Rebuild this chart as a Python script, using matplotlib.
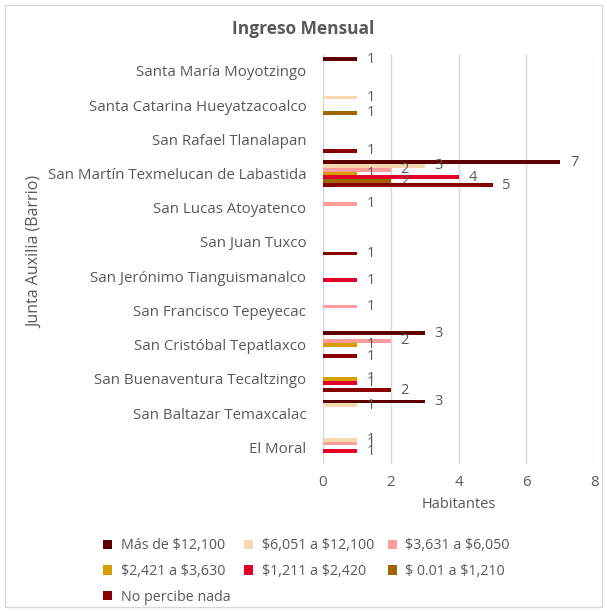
import numpy as np
import matplotlib.pyplot as plt
from matplotlib.patches import Rectangle

plt.rcParams['font.family'] = ['Open Sans', 'DejaVu Sans']

# categories from bottom to top
barrios = ["El Moral", "San Baltazar Temaxcalac", "San Buenaventura Tecaltzingo",
           "San Cristóbal Tepatlaxco", "San Francisco Tepeyecac",
           "San Jerónimo Tianguismanalco", "San Juan Tuxco", "San Lucas Atoyatenco",
           "San Martín Texmelucan de Labastida", "San Rafael Tlanalapan",
           "Santa Catarina Hueyatzacoalco", "Santa María Moyotzingo"]

mas_12100 = [0, 3, 0, 3, 0, 0, 0, 0, 7, 0, 0, 1]
r_6051_12100 = [1, 1, 0, 0, 0, 0, 0, 0, 3, 0, 1, 0]
r_3631_6050 = [1, 0, 0, 2, 1, 0, 0, 1, 2, 0, 0, 0]
r_2421_3630 = [0, 0, 1, 1, 0, 0, 0, 0, 1, 0, 0, 0]
r_1211_2420 = [1, 0, 1, 0, 0, 1, 0, 0, 4, 0, 0, 0]
r_001_1210 = [0, 0, 0, 0, 0, 0, 0, 0, 2, 0, 1, 0]
no_percibe = [0, 0, 2, 1, 0, 0, 1, 0, 5, 1, 0, 0]

series_names = [r"Más de \$12,100", r"\$6,051 a \$12,100", r"\$3,631 a \$6,050",
                r"\$2,421 a \$3,630", r"\$1,211 a \$2,420", r"\$ 0.01 a \$1,210",
                "No percibe nada"]
series_vals = [mas_12100, r_6051_12100, r_3631_6050, r_2421_3630,
               r_1211_2420, r_001_1210, no_percibe]
colores = ["#5e0000", "#f7d9b0", "#ff9c9c", "#d69e00", "#e2002a", "#9e6400", "#8a0000"]

gris = "#595959"

fig = plt.figure(figsize=(6.07, 6.11), dpi=100)
ax = fig.add_axes([0.532, 0.240, 0.447, 0.672])

h = 0.112
y = np.arange(len(barrios))
handles = []
for i, (name, vals, col) in enumerate(zip(series_names, series_vals, colores)):
    pos = y + (3 - i) * h
    bars = ax.barh(pos, vals, height=h, color=col, label=name, zorder=3)
    ax.bar_label(bars, labels=[str(v) if v else "" for v in vals],
                 padding=7, color=gris, fontsize=10.5)
    handles.append(bars)

ax.set_xlim(0, 8)
ax.set_ylim(-0.5, 11.5)
ax.set_xticks([0, 2, 4, 6, 8])
ax.set_yticks(y)
ax.set_yticklabels(barrios)
ax.tick_params(axis='both', length=0, colors=gris, labelsize=10.8)
ax.tick_params(axis='y', pad=12)
ax.tick_params(axis='x', pad=8)
ax.grid(axis='x', color="#d9d9d9", linewidth=1, zorder=0)
for s in ["top", "right", "bottom", "left"]:
    ax.spines[s].set_visible(False)
ax.axvline(0, color="#d9d9d9", linewidth=1, zorder=1)

ax.set_xlabel("Habitantes", color=gris, fontsize=10.5, labelpad=5)
fig.text(0.057, 0.587, "Junta Auxilia (Barrio)", rotation=90, color=gris,
         fontsize=11.5, ha='center', va='center')
fig.text(0.5, 0.953, "Ingreso Mensual", ha='center', va='center',
         color=gris, fontsize=12.5, fontweight='bold')

# legend filled row by row like the original
orden = [0, 3, 6, 1, 4, 2, 5]
fig.legend([handles[k] for k in orden], [series_names[k] for k in orden],
           ncol=3, loc='upper center', bbox_to_anchor=(0.505, 0.14),
           frameon=False, fontsize=10.3, labelcolor=gris, handlelength=0.6,
           handleheight=0.6, handletextpad=0.6, columnspacing=1.0,
           labelspacing=0.75)

fig.patches.append(Rectangle((0.009, 0.006), 0.982, 0.986, transform=fig.transFigure,
                             fill=False, edgecolor="#d9d9d9", linewidth=1))

fig.savefig("out.png", dpi=100)
